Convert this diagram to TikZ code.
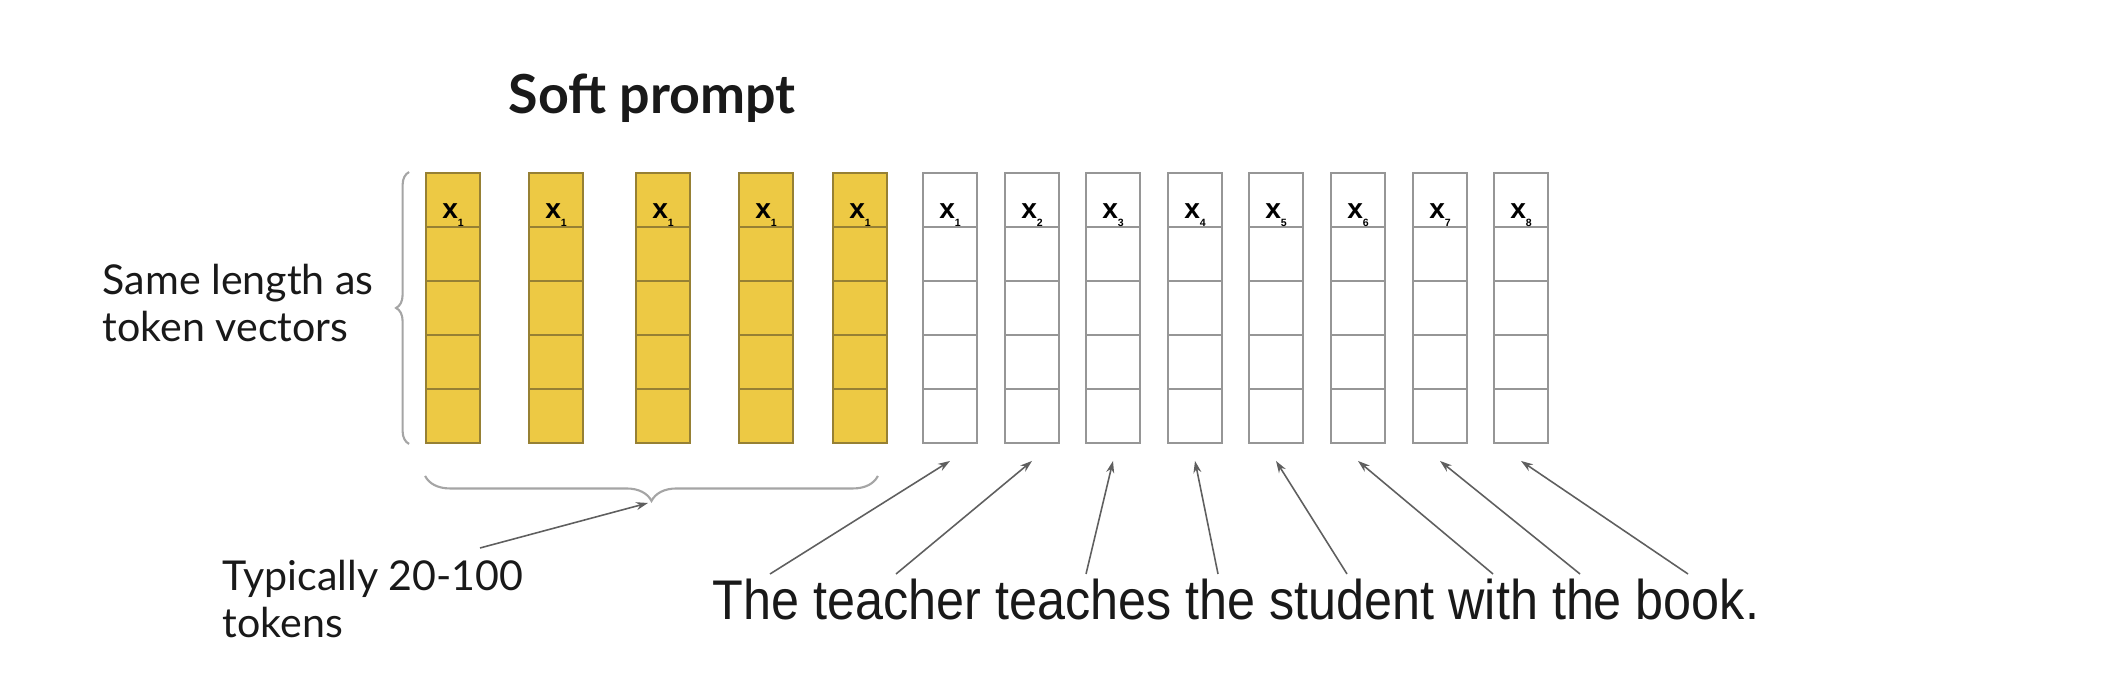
\documentclass[tikz,border=0pt]{standalone}
\usepackage{fontspec}
\setmainfont{Lato}
\newfontfamily\arialFont{Liberation Sans}
\usetikzlibrary{arrows.meta,decorations.pathreplacing}
\definecolor{softYellow}{RGB}{237,201,68}
\definecolor{softEdge}{RGB}{150,128,52}
\definecolor{tokenEdge}{RGB}{150,150,150}
\definecolor{pointerGray}{RGB}{95,95,95}
\definecolor{braceGray}{RGB}{165,165,165}
\definecolor{inkDark}{RGB}{25,25,25}
\tikzset{cellLines/.style = {path picture = {\foreach \k in {1,2,3,4} \draw[#1, line width = 0.5pt] ([yshift = -\k*0.54cm]path picture bounding box.north west) -- ([yshift = -\k*0.54cm]path picture bounding box.north east);}}}
\tikzstyle{softVector}=[shape = rectangle, minimum width = 0.54cm, inner sep = 0pt, text height = 0.46cm, text depth = 2.24cm, draw = softEdge, line width = 0.5pt, fill = softYellow, cellLines = softEdge]
\tikzstyle{tokenVector}=[shape = rectangle, minimum width = 0.54cm, inner sep = 0pt, text height = 0.46cm, text depth = 2.24cm, draw = tokenEdge, line width = 0.5pt, fill = white, cellLines = tokenEdge]
\newcommand{\tokx}[1]{{\arialFont\bfseries\fontsize{8}{8}\selectfont x\raisebox{-0.08cm}{\fontsize{3}{3}\selectfont #1}}}

\begin{document}
\begin{tikzpicture}[x = 0.01cm, y = 0.01cm]
\tikzstyle{sideText}=[align = left, inner sep = 0pt, text = inkDark, font = \fontsize{11.7}{13.4}\selectfont]
\tikzstyle{braceStyle}=[draw = braceGray, line width = 0.6pt, decorate]
\tikzstyle{pointerArrow}=[draw = pointerGray, line width = 0.45pt, -{Stealth[length = 0.12cm, width = 0.08cm]}]
\useasboundingbox (0,0) rectangle (2104,698);
\node[text = inkDark, inner sep = 0pt, anchor = base, font = \bfseries\fontsize{15.3}{15.3}\selectfont] (title) at (652,584) {Soft prompt};
\node[softVector] (s1) at (453,390) {\tokx{1}};
\node[softVector] (s2) at (556,390) {\tokx{1}};
\node[softVector] (s3) at (663,390) {\tokx{1}};
\node[softVector] (s4) at (766,390) {\tokx{1}};
\node[softVector] (s5) at (860,390) {\tokx{1}};
\node[tokenVector] (t1) at (950,390) {\tokx{1}};
\node[tokenVector] (t2) at (1032,390) {\tokx{2}};
\node[tokenVector] (t3) at (1113,390) {\tokx{3}};
\node[tokenVector] (t4) at (1195,390) {\tokx{4}};
\node[tokenVector] (t5) at (1276,390) {\tokx{5}};
\node[tokenVector] (t6) at (1358,390) {\tokx{6}};
\node[tokenVector] (t7) at (1440,390) {\tokx{7}};
\node[tokenVector] (t8) at (1521,390) {\tokx{8}};
\node[sideText, anchor = base west] (lengthNote) at (102,356) {Same length as\\token vectors};
\node[sideText, anchor = base west] (countNote) at (222,60) {Typically 20-100\\tokens};
\node[text = inkDark, inner sep = 0pt, anchor = base, font = \arialFont\fontsize{15.9}{15.9}\selectfont] (sentence) at (1236,78) {\scalebox{0.9}[1]{The teacher teaches the student with the book.}};
\draw[braceStyle, decoration = {brace, amplitude = 0.13cm}] ([xshift = -0.16cm]s1.south west) -- ([xshift = -0.16cm]s1.north west);
\draw[braceStyle, decoration = {brace, amplitude = 0.25cm}] ([xshift = -0.1cm, yshift = -0.32cm]s5.south east) -- ([yshift = -0.32cm]s1.south west);
\coordinate (countFrom) at (480,150);
\coordinate (softTip) at (648,195);
\draw[pointerArrow] (countFrom) -- (softTip);
\coordinate (w1) at (770,124);
\coordinate (w2) at (896,124);
\coordinate (w3) at (1086,124);
\coordinate (w4) at (1218,124);
\coordinate (w5) at (1347,124);
\coordinate (w6) at (1493,124);
\coordinate (w7) at (1580,124);
\coordinate (w8) at (1688,124);
\draw[pointerArrow] (w1) -- ([yshift = -0.17cm]t1.south);
\draw[pointerArrow] (w2) -- ([yshift = -0.17cm]t2.south);
\draw[pointerArrow] (w3) -- ([yshift = -0.17cm]t3.south);
\draw[pointerArrow] (w4) -- ([yshift = -0.17cm]t4.south);
\draw[pointerArrow] (w5) -- ([yshift = -0.17cm]t5.south);
\draw[pointerArrow] (w6) -- ([yshift = -0.17cm]t6.south);
\draw[pointerArrow] (w7) -- ([yshift = -0.17cm]t7.south);
\draw[pointerArrow] (w8) -- ([yshift = -0.17cm]t8.south);
\end{tikzpicture}
\end{document}
